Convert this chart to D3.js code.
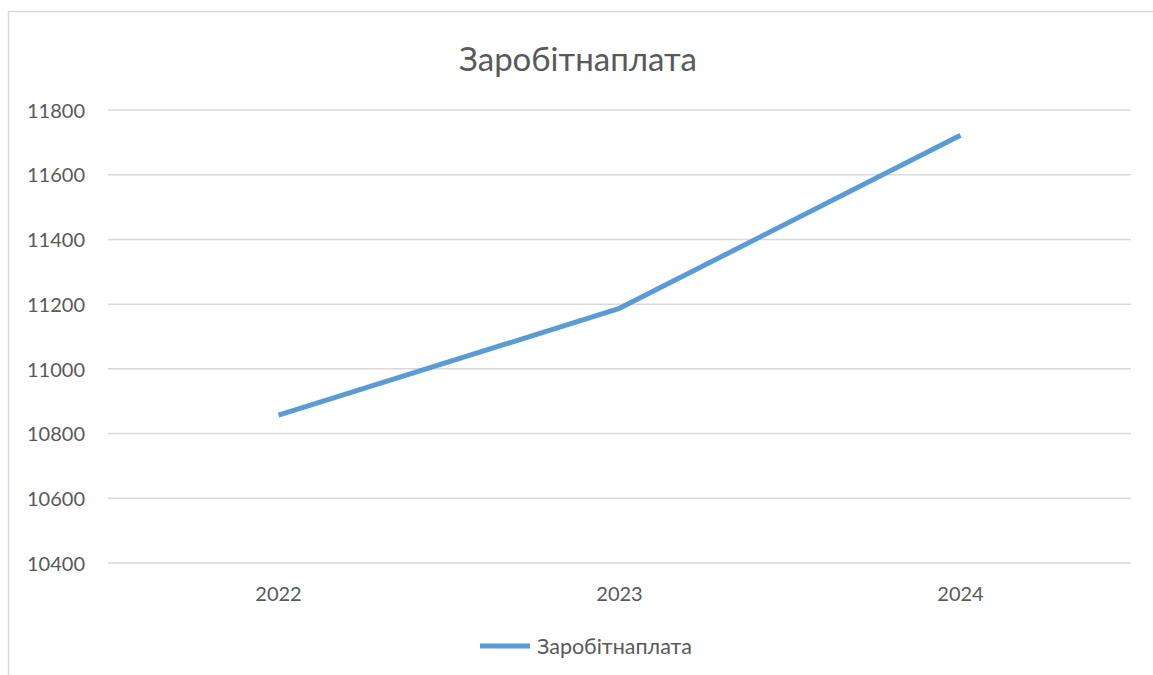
<!DOCTYPE html>
<html>
<head>
<meta charset="utf-8">
<script src="https://cdn.jsdelivr.net/npm/d3@7"></script>
<style>
  html, body { margin: 0; padding: 0; background: #fff; }
  svg { display: block; }
  text { font-family: Lato, "Open Sans", sans-serif; fill: #595959; }
</style>
</head>
<body>
<svg id="chart" width="1153" height="675"></svg>
<script>
// Salary by year
const chartTitle = "Заробітнаплата";
const seriesName = "Заробітнаплата";
const years = ["2022", "2023", "2024"];
const salary = [10857, 11187, 11722];
const yTicks = [10400, 10600, 10800, 11000, 11200, 11400, 11600, 11800];

const W = 1153, H = 675;
const plot = { left: 108, right: 1131, top: 110, bottom: 563 };

const svg = d3.select("#chart");

// chart area frame
svg.append("rect")
  .attr("x", 8.5).attr("y", 11.5)
  .attr("width", 1170).attr("height", 720)
  .attr("fill", "#fff")
  .attr("stroke", "#d9d9d9").attr("stroke-width", 1.5);

const x = d3.scaleBand().domain(years).range([plot.left, plot.right]);
const y = d3.scaleLinear().domain([10400, 11800]).range([plot.bottom, plot.top]);

// horizontal gridlines
svg.append("g")
  .selectAll("line")
  .data(yTicks)
  .join("line")
  .attr("x1", plot.left).attr("x2", plot.right)
  .attr("y1", d => y(d)).attr("y2", d => y(d))
  .attr("stroke", "#d9d9d9").attr("stroke-width", 1.5);

// value axis labels
const yAxis = d3.axisLeft(y).tickValues(yTicks).tickSize(0).tickPadding(0).tickFormat(d3.format("d"));
svg.append("g")
  .attr("transform", `translate(${plot.left - 23},0)`)
  .call(yAxis)
  .call(g => g.select(".domain").remove())
  .call(g => g.selectAll("text")
    .attr("fill", "#595959")
    .style("font-family", "Lato, 'Open Sans', sans-serif")
    .style("font-size", "20px")
    .attr("dy", "0.36em"));

// category axis labels
const xAxis = d3.axisBottom(x).tickSize(0).tickPadding(0);
svg.append("g")
  .attr("transform", `translate(0,${plot.bottom + 31})`)
  .call(xAxis)
  .call(g => g.select(".domain").remove())
  .call(g => g.selectAll("text")
    .attr("fill", "#595959")
    .attr("dy", "0.36em")
    .style("font-family", "Lato, 'Open Sans', sans-serif")
    .style("font-size", "20px"));

// series line
const line = d3.line()
  .x((d, i) => x(years[i]) + x.bandwidth() / 2)
  .y(d => y(d));
svg.append("path")
  .datum(salary)
  .attr("d", line)
  .attr("fill", "none")
  .attr("stroke", "#5b9bd5")
  .attr("stroke-width", 5)
  .attr("stroke-linejoin", "round");

// title
svg.append("text")
  .attr("x", 578).attr("y", 71)
  .attr("text-anchor", "middle")
  .style("font-size", "33px")
  .text(chartTitle);

// legend
const legend = svg.append("g");
legend.append("line")
  .attr("x1", 480).attr("x2", 530)
  .attr("y1", 646).attr("y2", 646)
  .attr("stroke", "#5b9bd5").attr("stroke-width", 5);
legend.append("text")
  .attr("x", 537).attr("y", 646)
  .attr("dy", "0.36em")
  .style("font-size", "21.5px")
  .text(seriesName);
</script>
</body>
</html>
